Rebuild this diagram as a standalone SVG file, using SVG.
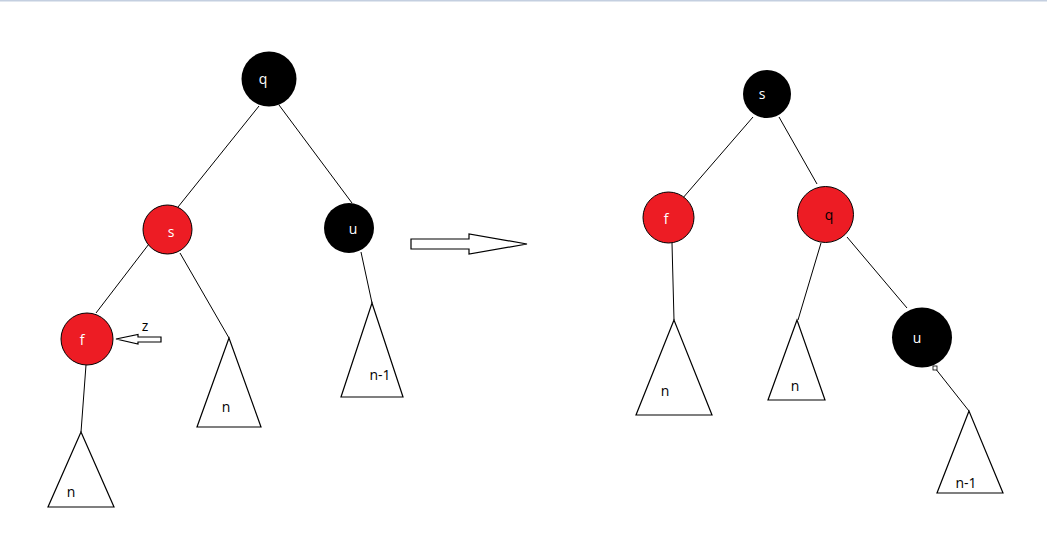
<svg xmlns="http://www.w3.org/2000/svg" width="1047" height="534" viewBox="0 0 1047 534">
<style>
.edge{stroke:#000;stroke-width:1;fill:none}
.tri{stroke:#000;stroke-width:1.2;fill:#fff}
.black{fill:#000}
.red{fill:#ed1c24;stroke:#000;stroke-width:1}
.lbl{font-family:"Open Sans","Liberation Sans",sans-serif;font-size:14px;text-anchor:middle}
.w{fill:#fff}
.k{fill:#000}
.arrow{fill:#fff;stroke:#000;stroke-width:1.2}
</style>
<rect x="0" y="0" width="1047" height="534" fill="#fff"/>
<rect x="0" y="0" width="1047" height="1.5" fill="#c4cfe0"/>

<g id="connectors">
<line class="edge" x1="259" y1="106" x2="178" y2="207"/>
<line class="edge" x1="279" y1="105" x2="352" y2="203"/>
<line class="edge" x1="152" y1="240" x2="96" y2="313"/>
<line class="edge" x1="180" y1="253" x2="229" y2="338"/>
<line class="edge" x1="361" y1="252" x2="372" y2="303"/>
<line class="edge" x1="86" y1="365" x2="81" y2="432"/>
<line class="edge" x1="753" y1="117" x2="682" y2="199"/>
<line class="edge" x1="779" y1="117" x2="817" y2="184"/>
<line class="edge" x1="672" y1="243" x2="674" y2="320"/>
<line class="edge" x1="821" y1="243" x2="798" y2="320"/>
<line class="edge" x1="847" y1="237" x2="907" y2="308"/>
<line class="edge" x1="935" y1="368" x2="969" y2="411"/>
</g>

<g id="subtree-left-f">
<polygon class="tri" points="81,432 48,507 114,507"/>
<text class="lbl k" x="71" y="497">n</text>
</g>
<g id="subtree-left-s">
<polygon class="tri" points="229,338 197,427 261,427"/>
<text class="lbl k" x="226" y="412">n</text>
</g>
<g id="subtree-left-u">
<polygon class="tri" points="372,303 341,397 403,397"/>
<text class="lbl k" x="380" y="380">n-1</text>
</g>

<g id="node-left-q">
<circle class="black" cx="269" cy="79" r="27.5"/>
<text class="lbl w" x="263" y="84">q</text>
</g>
<g id="node-left-s">
<circle class="red" cx="167.5" cy="229.5" r="24.5"/>
<text class="lbl w" x="171" y="237">s</text>
</g>
<g id="node-left-u">
<circle class="black" cx="349" cy="228" r="25"/>
<text class="lbl w" x="353" y="234">u</text>
</g>
<g id="node-left-f">
<circle class="red" cx="87" cy="339" r="26"/>
<text class="lbl w" x="82" y="345">f</text>
</g>

<g id="z-pointer">
<polygon class="arrow" points="116,339 138,334.5 138,337 161,337 161,342 138,342 138,344 "/>
<text class="lbl k" x="145" y="331">z</text>
</g>

<g id="transform-arrow">
<polygon class="arrow" points="411,239 469,239 469,234 527,244 469,254 469,249 411,249"/>
</g>

<g id="subtree-right-f">
<polygon class="tri" points="674,320 636,415 712,415"/>
<text class="lbl k" x="665" y="396">n</text>
</g>
<g id="subtree-right-q">
<polygon class="tri" points="797,320 768,400 825,400"/>
<text class="lbl k" x="795" y="391">n</text>
</g>
<g id="subtree-right-u">
<polygon class="tri" points="969,411 937,493 1003,493"/>
<text class="lbl k" x="966" y="488">n-1</text>
</g>

<g id="node-right-s">
<circle class="black" cx="767" cy="94" r="24"/>
<text class="lbl w" x="762" y="99">s</text>
</g>
<g id="node-right-f">
<circle class="red" cx="668.5" cy="217.5" r="25.5"/>
<text class="lbl w" x="666" y="224">f</text>
</g>
<g id="node-right-q">
<circle class="red" cx="825.5" cy="214.5" r="28"/>
<text class="lbl k" x="829" y="220">q</text>
</g>
<g id="node-right-u">
<circle class="black" cx="922" cy="337.5" r="30"/>
<text class="lbl w" x="917" y="343">u</text>
<rect x="933" y="366" width="4" height="4" fill="#fff" stroke="#000" stroke-width="0.8"/>
</g>
</svg>
